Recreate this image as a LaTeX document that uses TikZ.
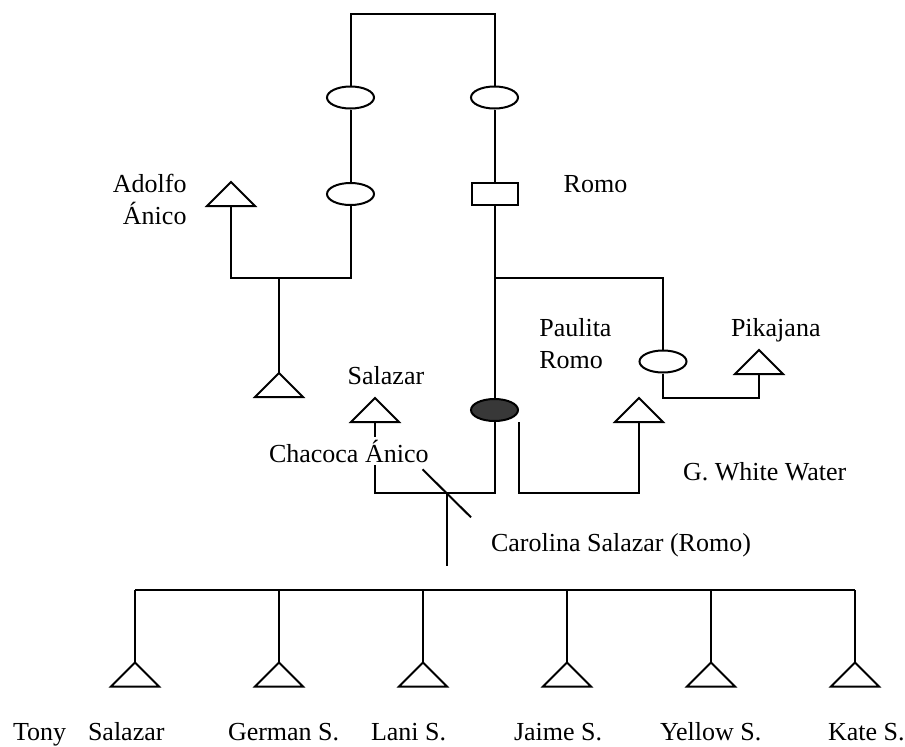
\documentclass[tikz,border=0pt]{standalone}
\usepackage{fontspec}
\setmainfont{Liberation Serif}
\usetikzlibrary{shapes.geometric,calc}
\begin{document}
\begin{tikzpicture}[x=1pt,y=-1pt,line width=2pt,
  ell/.style={draw,ellipse,inner sep=0pt,minimum width=47pt,minimum height=22pt},
  male/.style={draw,rectangle,inner sep=0pt,minimum width=46pt,minimum height=22pt},
  tri/.style={inner sep=0pt,minimum width=46pt,minimum height=22pt,
    append after command={\pgfextra{\draw[line join=miter]
      (\tikzlastnode.south west) -- (\tikzlastnode.north) -- (\tikzlastnode.south east) -- cycle;}}},
  lbl/.style={inner sep=0pt,anchor=base west,font=\fontsize{26}{32.5}\selectfont},
]
\useasboundingbox (0,0) rectangle (905,747);

% levels of the horizontal bars
\coordinate (tl) at (0,14);
\coordinate (lbar) at (0,278);
\coordinate (pbar) at (0,398);
\coordinate (cbar) at (0,493.3);
\coordinate (dend) at (0,566);
\coordinate (sbar) at (0,590);

% symbols
\node[ell]  (gm) at (350.5,97.5) {};
\node[ell]  (gf) at (494.5,97.5) {};
\node[ell]  (m1) at (350.5,194) {};
\node[male] (romo) at (494.5,194) {};
\node[tri]  (adolfo) at (231,194) {};
\node[tri]  (chacoca) at (279,385) {};
\node[ell]  (paulita) at (663,361.5) {};
\node[tri]  (pika) at (759,362) {};
\node[ell,fill=black!78] (carolina) at (494.5,410) {};
\node[tri]  (salazar) at (375,410) {};
\node[tri]  (white) at (639,410) {};
\foreach \i/\x in {1/135,2/279,3/423,4/567,5/711,6/855}
  \node[tri] (c\i) at (\x,674.5) {};

% connectors
\draw (gm.north) -- (gm.north |- tl) -- (gf.north |- tl) -- (gf.north);
\draw (gm.south) -- (m1.north);
\draw (gf.south) -- (romo.north);
\draw (adolfo.south) -- (adolfo.south |- lbar) -- (m1.south |- lbar) -- (m1.south);
\draw (chacoca.north |- lbar) -- (chacoca.north);
\draw (romo.south) -- (carolina.north);
\draw (romo.south |- lbar) -- (paulita.north |- lbar) -- (paulita.north);
\draw (paulita.south) -- (paulita.south |- pbar) -- (pika.south |- pbar) -- (pika.south);
\draw (salazar.south) -- (salazar.south |- cbar) -- (carolina.south |- cbar) -- (carolina.south);
\draw (carolina.east |- carolina.south) -- (carolina.east |- cbar) -- (white.south |- cbar) -- (white.south);
\coordinate (sib) at (447,493.3);
\draw ($(sib)+(-24.5,-24)$) -- ($(sib)+(24,24)$);
\draw (sib) -- (sib |- dend);
\draw (c1.north |- sbar) -- (c6.north |- sbar);
\foreach \i in {1,...,6}
  \draw (c\i.north |- sbar) -- (c\i.north);

% names (the Chacoca label sits on a white box over the Salazar line)
\node[lbl,anchor=base east] (l-adolfo) at (187.5,192.3)
  {\begin{tabular}[t]{@{}r@{}}Adolfo\\Ánico\end{tabular}};
\node[lbl] (l-romo) at (562.7,192.3) {Romo};
\node[lbl] (l-paulita) at (538.3,336)
  {\begin{tabular}[t]{@{}l@{}}Paulita\\Romo\end{tabular}};
\node[lbl] (l-pika) at (730,336) {Pikajana};
\node[lbl] (l-salazar) at (346.7,384) {Salazar};
\node[lbl,fill=white,inner sep=3pt] (l-chacoca) at (265,462) {Chacoca Ánico};
\node[lbl] (l-white) at (682,480) {G. White Water};
\node[lbl] (l-carolina) at (490,551.7) {Carolina Salazar (Romo)};
\node[lbl] (l-tony) at (12,740) {Tony};
\node[lbl] (l-salazar2) at (87,740) {Salazar};
\node[lbl] (l-german) at (227,740) {German S.};
\node[lbl] (l-lani) at (370,740) {Lani S.};
\node[lbl] (l-jaime) at (513,740) {Jaime S.};
\node[lbl] (l-yellow) at (659,740) {Yellow S.};
\node[lbl] (l-kate) at (827,740) {Kate S.};
\end{tikzpicture}
\end{document}
